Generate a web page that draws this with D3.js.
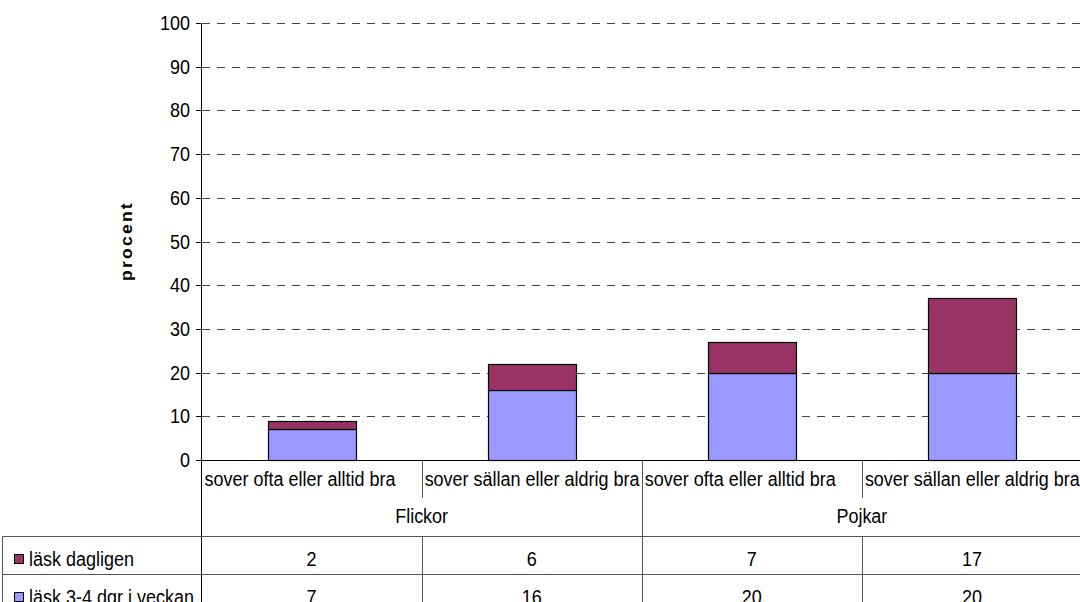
<!DOCTYPE html>
<html>
<head>
<meta charset="utf-8">
<script src="https://cdn.jsdelivr.net/npm/d3@7"></script>
<style>
  html, body { margin: 0; padding: 0; background: #fff; }
  svg { display: block; }
  text { font-family: "Liberation Sans", Arial, sans-serif; fill: #000; }
</style>
</head>
<body>
<svg id="chart" width="1080" height="602"></svg>
<script>
const groups = ["Flickor", "Pojkar"];
const categories = ["sover ofta eller alltid bra", "sover sällan eller aldrig bra", "sover ofta eller alltid bra", "sover sällan eller aldrig bra"];
const categoryGroup = [0, 0, 1, 1];
const seriesNames = ["läsk 3-4 dgr i veckan", "läsk dagligen"];
const weekly = [7, 16, 20, 20];
const daily = [2, 6, 7, 17];
const yTicks = [0, 10, 20, 30, 40, 50, 60, 70, 80, 90, 100];
const colors = ["#9999FF", "#993366"];

const svg = d3.select("#chart");
const FS = 18, SY = 1.1;

const x = d3.scaleBand().domain(d3.range(categories.length)).range([201.5, 1082]).paddingInner(0).paddingOuter(0);
const y = d3.scaleLinear().domain([0, 100]).range([461, 24]);
const barW = x.bandwidth() * 0.4;

function label(parent, tx, ty, str, anchor, opts = {}) {
  const g = parent.append("g").attr("transform", `translate(${tx},${ty}) scale(1,${SY})` + (opts.rotate ? ` rotate(${opts.rotate})` : ""));
  const t = g.append("text").attr("x", 0).attr("y", 0).attr("text-anchor", anchor)
    .style("font-size", (opts.size || FS) + "px").text(str);
  if (opts.bold) t.style("font-weight", "bold");
  if (opts.ls) t.style("letter-spacing", opts.ls + "px");
  return t;
}

// gridlines
const gy = (v) => Math.round(y(v)) + 0.5;
svg.append("g").selectAll("line").data(yTicks.filter(d => d > 0)).join("line")
  .attr("x1", 202).attr("x2", 1082)
  .attr("y1", d => gy(d) - 1).attr("y2", d => gy(d) - 1)
  .attr("stroke", "#444").attr("stroke-width", 1).attr("stroke-dasharray", "8,7");

// stacked bars
const rows = categories.map((c, i) => ({ i, weekly: weekly[i], daily: daily[i] }));
const stack = d3.stack().keys(["weekly", "daily"])(rows);
svg.append("g").selectAll("g").data(stack).join("g")
  .attr("fill", (d, k) => colors[k])
  .selectAll("rect").data(d => d).join("rect")
  .attr("x", d => Math.round(x(d.data.i) + (x.bandwidth() - barW) / 2) + 0.5)
  .attr("width", Math.round(barW))
  .attr("y", d => Math.round(y(d[1])) - 0.5)
  .attr("height", d => Math.round(y(d[0])) - Math.round(y(d[1])))
  .attr("stroke", "#000").attr("stroke-width", 1.2);

// y axis
const axisG = svg.append("g");
axisG.append("line").attr("x1", 201.5).attr("x2", 201.5).attr("y1", 24).attr("y2", 602).attr("stroke", "#000");
axisG.selectAll("line.tick").data(yTicks).join("line").attr("class", "tick")
  .attr("x1", 196).attr("x2", 201.5)
  .attr("y1", d => gy(d) - 1).attr("y2", d => gy(d) - 1).attr("stroke", "#000");
yTicks.forEach(v => label(axisG, 190, y(v) + 6, String(v), "end"));

// x axis line
svg.append("line").attr("x1", 196).attr("x2", 1082).attr("y1", 460.5).attr("y2", 460.5).attr("stroke", "#000");

// y title
label(svg, 132, 241, "procent", "middle", { rotate: -90, bold: true, size: 16, ls: 2 });

// table area
const tbl = svg.append("g");
const lineCol = "#555";
categories.forEach((c, i) => {
  if (i > 0 && categoryGroup[i] === categoryGroup[i - 1]) {
    const xx = Math.round(x(i)) + 0.5;
    tbl.append("line").attr("x1", xx).attr("x2", xx).attr("y1", 461).attr("y2", 498).attr("stroke", lineCol);
    tbl.append("line").attr("x1", xx).attr("x2", xx).attr("y1", 536.5).attr("y2", 602).attr("stroke", lineCol);
  } else if (i > 0) {
    const xx = Math.round(x(i)) + 0.5;
    tbl.append("line").attr("x1", xx).attr("x2", xx).attr("y1", 461).attr("y2", 602).attr("stroke", lineCol);
  }
});
tbl.append("line").attr("x1", 1081.5).attr("x2", 1081.5).attr("y1", 461).attr("y2", 602).attr("stroke", lineCol);
tbl.append("line").attr("x1", 2.5).attr("x2", 2.5).attr("y1", 536.5).attr("y2", 602).attr("stroke", lineCol);
[536.5, 574.5].forEach(yy => tbl.append("line").attr("x1", 2.5).attr("x2", 1082).attr("y1", yy).attr("y2", yy).attr("stroke", lineCol));

categories.forEach((c, i) => label(tbl, x(i) + 3, 485.5, c, "start"));
groups.forEach((g, gi) => {
  const idx = categories.map((c, i) => i).filter(i => categoryGroup[i] === gi);
  const cx = (x(idx[0]) + x(idx[idx.length - 1]) + x.bandwidth()) / 2;
  label(tbl, cx, 523, g, "middle");
});

const tableRows = [{ name: seriesNames[1], vals: daily, col: colors[1] }, { name: seriesNames[0], vals: weekly, col: colors[0] }];
tableRows.forEach((r, ri) => {
  const base = 566 + ri * 38;
  tbl.append("rect").attr("x", 14.5).attr("y", base - 11.5).attr("width", 9).attr("height", 9)
    .attr("fill", r.col).attr("stroke", "#000");
  label(tbl, 29, base, r.name, "start");
  r.vals.forEach((v, i) => label(tbl, x(i) + x.bandwidth() / 2, base, String(v), "middle"));
});
</script>
</body>
</html>
